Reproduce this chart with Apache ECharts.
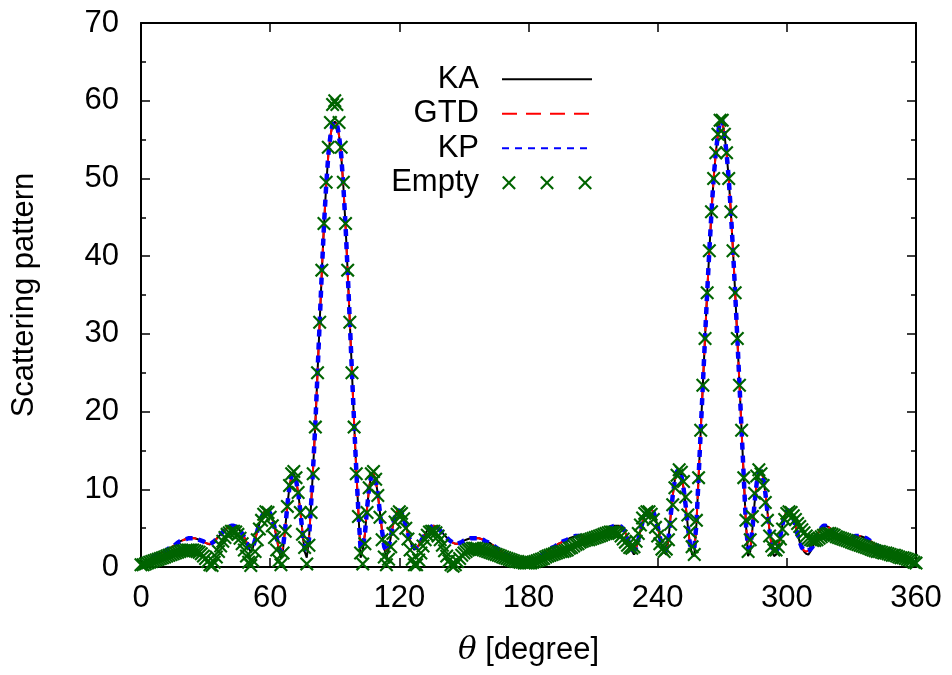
<!DOCTYPE html>
<html>
<head>
<meta charset="utf-8">
<script src="https://cdn.jsdelivr.net/npm/echarts@6/dist/echarts.min.js"></script>
<style>
html,body{margin:0;padding:0;background:#fff;}
#chart{width:952px;height:675px;}
</style>
</head>
<body>
<div id="chart"></div>
<script>
// Sampled every 1 degree, theta = 0 .. 360
const kaValues = [
0.3,0.4,0.6,0.8,1.0,1.2,1.4,1.5,1.7,1.8,
1.9,2.0,2.2,2.4,2.5,2.7,2.9,3.1,3.3,3.4,
3.5,3.6,3.7,3.7,3.7,3.7,3.6,3.5,3.4,3.3,
3.1,3.0,2.9,3.1,3.3,3.6,3.9,4.2,4.5,4.8,
5.0,5.2,5.3,5.3,5.2,5.0,4.7,4.3,3.8,3.2,
2.5,1.9,2.5,3.5,4.6,5.6,6.4,7.0,7.3,7.3,
6.9,6.2,5.1,3.8,2.2,1.2,2.3,5.0,8.0,10.4,
11.8,12.0,11.2,9.6,7.2,4.5,2.0,1.2,3.5,8.0,
13.0,18.5,25.0,31.5,38.0,44.0,49.0,53.0,55.5,57.0,
57.3,57.0,55.5,53.0,49.0,44.0,38.0,31.5,25.0,18.5,
12.5,7.0,1.2,2.2,4.2,7.5,10.3,11.8,12.0,11.2,
9.4,7.0,4.6,2.4,1.2,2.3,3.8,5.3,6.5,7.2,
7.3,7.0,6.3,5.3,4.3,3.4,2.6,2.2,2.5,2.8,
3.3,3.8,4.3,4.7,5.0,5.2,5.3,5.2,5.0,4.7,
4.4,4.1,3.8,3.5,3.3,3.1,3.0,3.0,3.1,3.2,
3.4,3.5,3.6,3.7,3.7,3.7,3.7,3.7,3.6,3.5,
3.3,3.2,3.1,2.9,2.7,2.5,2.3,2.1,1.9,1.7,
1.5,1.4,1.3,1.2,1.1,1.0,0.9,0.9,0.8,0.8,
0.8,0.8,0.9,1.0,1.1,1.3,1.5,1.7,1.9,2.1,
2.3,2.5,2.6,2.8,3.0,3.1,3.3,3.4,3.5,3.7,
3.8,3.9,4.0,4.0,4.0,3.9,3.8,3.7,3.6,3.5,
3.5,3.5,3.6,3.8,4.0,4.3,4.6,4.9,5.1,5.2,
5.3,5.3,5.3,5.2,4.9,4.4,3.7,2.9,2.1,1.6,
2.4,3.5,4.7,5.8,6.6,7.1,7.4,7.4,7.1,6.3,
5.2,3.9,2.7,1.9,1.6,3.6,6.5,9.2,11.2,12.3,
12.5,11.8,10.2,7.9,5.3,2.9,1.6,1.4,5.5,11.5,
17.5,23.5,29.5,35.3,40.7,45.7,50.0,53.3,55.7,57.5,
57.5,55.7,53.3,50.0,45.7,40.7,35.3,29.5,23.5,17.5,
11.5,5.5,1.4,2.0,4.8,8.2,10.8,12.2,12.4,11.5,
9.6,7.1,4.6,2.6,1.4,1.6,2.5,4.0,5.5,6.6,
7.2,7.3,7.0,6.3,5.3,4.2,3.2,2.5,2.0,1.7,
1.6,2.0,2.6,3.3,4.0,4.6,5.0,5.3,5.3,5.2,
5.0,4.7,4.3,3.9,3.6,3.5,3.5,3.5,3.6,3.7,
3.8,3.9,4.0,4.0,4.0,3.9,3.8,3.7,3.5,3.3,
3.1,2.9,2.7,2.6,2.4,2.3,2.2,2.1,2.0,1.9,
1.8,1.7,1.5,1.4,1.3,1.1,1.0,0.9,0.7,0.6,0.5
];
const gtdValues = [
0.3,0.4,0.6,0.8,1.0,1.2,1.4,1.5,1.7,1.8,
1.9,2.0,2.2,2.4,2.5,2.7,2.9,3.1,3.3,3.4,
3.5,3.6,3.7,3.7,3.7,3.7,3.6,3.5,3.4,3.3,
3.1,3.0,3.0,3.1,3.3,3.6,3.9,4.2,4.5,4.8,
5.0,5.2,5.3,5.3,5.2,5.0,4.7,4.3,3.8,3.2,
2.6,2.3,2.5,3.5,4.6,5.6,6.4,7.0,7.3,7.3,
6.9,6.2,5.1,3.8,2.4,2.0,2.6,5.0,8.0,10.4,
11.8,12.0,11.2,9.6,7.2,4.5,2.4,2.2,3.5,8.0,
13.0,18.5,25.0,31.5,38.0,44.0,49.0,53.0,55.5,57.0,
57.3,57.0,55.5,53.0,49.0,44.0,38.0,31.5,25.0,18.5,
12.5,7.0,2.3,2.6,4.2,7.5,10.3,11.8,12.0,11.2,
9.4,7.0,4.6,2.6,2.0,2.5,3.8,5.3,6.5,7.2,
7.3,7.0,6.3,5.3,4.3,3.4,2.8,2.5,2.5,2.8,
3.3,3.8,4.3,4.7,5.0,5.2,5.3,5.2,5.0,4.7,
4.4,4.1,3.8,3.5,3.3,3.1,3.0,3.0,3.1,3.2,
3.4,3.5,3.6,3.7,3.7,3.7,3.7,3.7,3.6,3.5,
3.3,3.2,3.1,2.9,2.7,2.5,2.3,2.1,1.9,1.7,
1.5,1.4,1.3,1.2,1.1,1.0,0.9,0.9,0.8,0.8,
0.8,0.8,0.9,1.0,1.1,1.3,1.5,1.7,1.9,2.1,
2.3,2.5,2.6,2.8,3.0,3.1,3.3,3.4,3.5,3.7,
3.8,3.9,4.0,4.0,4.0,3.9,3.8,3.7,3.6,3.5,
3.5,3.5,3.6,3.8,4.0,4.3,4.6,4.9,5.1,5.2,
5.3,5.3,5.3,5.2,4.9,4.4,3.7,2.9,2.3,2.1,
2.5,3.5,4.7,5.8,6.6,7.1,7.4,7.4,7.1,6.3,
5.2,3.9,2.7,2.2,2.2,3.6,6.5,9.2,11.2,12.3,
12.5,11.8,10.2,7.9,5.3,2.9,2.3,2.4,5.5,11.5,
17.5,23.5,29.5,35.3,40.7,45.7,50.0,53.3,55.7,57.5,
57.5,55.7,53.3,50.0,45.7,40.7,35.3,29.5,23.5,17.5,
11.5,5.5,2.4,2.4,4.8,8.2,10.8,12.2,12.4,11.5,
9.6,7.1,4.6,2.6,2.0,2.0,2.5,4.0,5.5,6.6,
7.2,7.3,7.0,6.3,5.3,4.2,3.2,2.5,2.1,2.0,
2.1,2.3,2.6,3.3,4.0,4.6,5.0,5.3,5.3,5.2,
5.0,4.7,4.3,3.9,3.6,3.5,3.5,3.5,3.6,3.7,
3.8,3.9,4.0,4.0,4.0,3.9,3.8,3.7,3.5,3.3,
3.1,2.9,2.7,2.6,2.4,2.3,2.2,2.1,2.0,1.9,
1.8,1.7,1.5,1.4,1.3,1.1,1.0,0.9,0.7,0.6,0.5
];
const kpValues = [
0.3,0.4,0.6,0.8,1.0,1.2,1.4,1.5,1.7,1.8,
1.9,2.0,2.2,2.4,2.5,2.7,2.9,3.1,3.3,3.4,
3.5,3.6,3.7,3.7,3.7,3.7,3.6,3.5,3.4,3.3,
3.1,3.0,3.0,3.1,3.3,3.6,3.9,4.2,4.5,4.8,
5.0,5.2,5.3,5.3,5.2,5.0,4.7,4.3,3.8,3.2,
2.6,2.3,2.5,3.5,4.6,5.6,6.4,7.0,7.3,7.3,
6.9,6.2,5.1,3.8,2.4,2.0,2.6,5.0,8.0,10.4,
11.8,12.0,11.2,9.6,7.2,4.5,2.4,2.2,3.5,8.0,
13.0,18.5,25.0,31.5,38.0,44.0,49.0,53.0,55.5,57.0,
57.3,57.0,55.5,53.0,49.0,44.0,38.0,31.5,25.0,18.5,
12.5,7.0,2.3,2.6,4.2,7.5,10.3,11.8,12.0,11.2,
9.4,7.0,4.6,2.6,2.0,2.5,3.8,5.3,6.5,7.2,
7.3,7.0,6.3,5.3,4.3,3.4,2.8,2.5,2.5,2.8,
3.3,3.8,4.3,4.7,5.0,5.2,5.3,5.2,5.0,4.7,
4.4,4.1,3.8,3.5,3.3,3.1,3.0,3.0,3.1,3.2,
3.4,3.5,3.6,3.7,3.7,3.7,3.7,3.7,3.6,3.5,
3.3,3.2,3.1,2.9,2.7,2.5,2.3,2.1,1.9,1.7,
1.5,1.4,1.3,1.2,1.1,1.0,0.9,0.9,0.8,0.8,
0.8,0.8,0.9,1.0,1.1,1.3,1.5,1.7,1.9,2.1,
2.3,2.5,2.6,2.8,3.0,3.1,3.3,3.4,3.5,3.7,
3.8,3.9,4.0,4.0,4.0,3.9,3.8,3.7,3.6,3.5,
3.5,3.5,3.6,3.8,4.0,4.3,4.6,4.9,5.1,5.2,
5.3,5.3,5.3,5.2,4.9,4.4,3.7,2.9,2.3,2.1,
2.5,3.5,4.7,5.8,6.6,7.1,7.4,7.4,7.1,6.3,
5.2,3.9,2.7,2.2,2.2,3.6,6.5,9.2,11.2,12.3,
12.5,11.8,10.2,7.9,5.3,2.9,2.3,2.4,5.5,11.5,
17.5,23.5,29.5,35.3,40.7,45.7,50.0,53.3,55.7,57.5,
57.5,55.7,53.3,50.0,45.7,40.7,35.3,29.5,23.5,17.5,
11.5,5.5,2.4,2.4,4.8,8.2,10.8,12.2,12.4,11.5,
9.6,7.1,4.6,2.6,2.0,2.0,2.5,4.0,5.5,6.6,
7.2,7.3,7.0,6.3,5.3,4.2,3.2,2.5,2.1,2.0,
2.1,2.3,2.6,3.3,4.0,4.6,5.0,5.3,5.3,5.2,
5.0,4.7,4.3,3.9,3.6,3.5,3.5,3.5,3.6,3.7,
3.8,3.9,4.0,4.0,4.0,3.9,3.8,3.7,3.5,3.3,
3.1,2.9,2.7,2.6,2.4,2.3,2.2,2.1,2.0,1.9,
1.8,1.7,1.5,1.4,1.3,1.1,1.0,0.9,0.7,0.6,0.5
];
const emptyValues = [
0.3,0.3,0.4,0.5,0.6,0.7,0.8,0.9,1.0,1.1,
1.2,1.3,1.4,1.5,1.6,1.7,1.8,1.9,2.0,2.1,
2.1,2.2,2.2,2.2,2.2,2.1,2.0,1.9,1.7,1.4,
1.1,0.7,0.3,0.2,0.6,1.3,2.0,2.7,3.3,3.8,
4.2,4.4,4.6,4.6,4.5,4.2,3.7,3.0,2.2,1.4,
0.6,0.2,0.8,2.0,3.5,4.9,6.0,6.8,7.1,7.0,
6.4,5.3,3.8,2.2,0.8,0.3,1.8,4.6,7.8,10.5,
12.0,12.3,11.5,9.6,7.0,4.2,2.5,0.4,2.8,7.0,
12.0,18.0,25.0,31.5,38.2,44.2,49.5,54.0,57.2,59.5,
60.0,59.5,57.2,54.0,49.5,44.2,38.2,31.5,25.0,18.0,
12.0,6.5,1.8,0.4,3.0,7.0,10.2,12.0,12.3,11.3,
9.2,6.4,3.5,1.3,0.3,1.0,2.6,4.3,5.8,6.8,
7.1,6.9,6.2,5.0,3.6,2.2,1.0,0.3,0.3,0.9,
1.8,2.7,3.5,4.1,4.5,4.6,4.6,4.4,4.0,3.5,
2.8,2.1,1.4,0.8,0.3,0.1,0.3,0.7,1.1,1.5,
1.8,2.0,2.2,2.3,2.4,2.4,2.4,2.3,2.3,2.2,
2.1,2.0,1.9,1.8,1.7,1.6,1.5,1.4,1.3,1.2,
1.1,1.0,0.9,0.8,0.7,0.7,0.6,0.6,0.5,0.5,
0.5,0.5,0.6,0.7,0.8,0.9,1.0,1.1,1.3,1.4,
1.5,1.6,1.7,1.8,1.9,2.0,2.0,2.1,2.2,2.4,
2.5,2.7,2.9,3.0,3.2,3.3,3.4,3.5,3.5,3.6,
3.7,3.8,3.9,4.0,4.1,4.2,4.3,4.4,4.5,4.5,
4.5,4.4,4.3,4.0,3.6,3.2,2.8,2.5,2.4,2.6,
3.3,4.3,5.4,6.3,6.9,7.1,7.1,6.8,6.1,5.1,
4.0,3.0,2.3,2.0,2.3,3.5,5.5,8.0,10.2,11.8,
12.5,12.2,11.0,9.0,6.7,4.5,2.6,1.6,6.0,11.5,
17.6,23.4,29.4,35.3,40.7,45.7,50.0,53.3,55.7,57.5,
57.5,55.7,53.3,50.0,45.7,40.7,35.3,29.4,23.4,17.6,
11.5,6.0,2.0,3.5,6.5,9.5,11.7,12.5,12.0,10.5,
8.3,6.0,4.0,2.7,2.2,2.2,2.6,3.6,4.9,6.1,
6.9,7.1,7.0,6.6,6.1,5.6,5.2,4.8,4.4,4.0,
3.7,3.5,3.4,3.4,3.5,3.7,3.9,4.1,4.2,4.3,
4.3,4.2,4.1,3.9,3.8,3.7,3.6,3.5,3.4,3.3,
3.2,3.1,3.0,2.9,2.8,2.7,2.6,2.5,2.4,2.3,
2.2,2.1,2.0,2.0,1.9,1.8,1.8,1.7,1.6,1.5,
1.5,1.4,1.3,1.2,1.2,1.1,1.0,0.9,0.8,0.6,0.5
];
const seriesNames = ['KA', 'GTD', 'KP', 'Empty'];
const xTicks = [0, 60, 120, 180, 240, 300, 360];
const yTicks = [0, 10, 20, 30, 40, 50, 60, 70];

const FONT = '"Liberation Sans", Arial, Helvetica, sans-serif';
const GREEN = '#006400';
// filled "x" marker shape (12x12 box)
const X_PTS = [[0,1.3],[1.3,0],[6,4.7],[10.7,0],[12,1.3],[7.3,6],[12,10.7],[10.7,12],[6,7.3],[1.3,12],[0,10.7],[4.7,6]];
function xAt(ox) {
  return 'M' + X_PTS.map(q => (q[0] + ox) + ' ' + q[1]).join('L') + 'Z';
}
const X_PATH = 'path://' + xAt(0);
const X3_PATH = 'path://' + xAt(0) + xAt(33) + xAt(66);

function toPairs(arr) { return arr.map((v, i) => [i, v]); }

const chart = echarts.init(document.getElementById('chart'), null, {renderer: 'canvas'});

const axisLineStyle = {color: '#000', width: 2};
const tickStyle = {color: '#000', width: 1.5};
const noSymbol = {opacity: 0};

const option = {
  animation: false,
  backgroundColor: '#fff',
  grid: {left: 141, right: 36, top: 23, bottom: 108, containLabel: false},
  xAxis: [{
    type: 'value', min: xTicks[0], max: xTicks[xTicks.length - 1], interval: 60,
    position: 'bottom',
    axisLine: {show: true, onZero: false, lineStyle: axisLineStyle},
    axisTick: {show: true, inside: true, length: 9, lineStyle: tickStyle},
    axisLabel: {show: true, fontSize: 31, color: '#000', fontFamily: FONT, margin: 16},
    splitLine: {show: false},
    name: '{i|θ} [degree]',
    nameLocation: 'middle',
    nameGap: 68,
    nameTextStyle: {fontSize: 31, color: '#000', fontFamily: FONT,
      rich: {i: {fontSize: 31, fontStyle: 'italic', color: '#000', fontFamily: '"DejaVu Serif", "Liberation Serif", serif'}}}
  }, {
    type: 'value', min: xTicks[0], max: xTicks[xTicks.length - 1], interval: 60,
    position: 'top',
    axisLine: {show: true, onZero: false, lineStyle: axisLineStyle},
    axisTick: {show: true, inside: true, length: 9, lineStyle: tickStyle},
    axisLabel: {show: false},
    splitLine: {show: false}
  }],
  yAxis: [{
    type: 'value', min: yTicks[0], max: yTicks[yTicks.length - 1], interval: 10,
    position: 'left',
    axisLine: {show: true, onZero: false, lineStyle: axisLineStyle},
    axisTick: {show: true, inside: true, length: 9, lineStyle: tickStyle},
    minorTick: {show: true, splitNumber: 2, length: 5, lineStyle: tickStyle},
    axisLabel: {show: true, fontSize: 31, color: '#000', fontFamily: FONT, margin: 22},
    splitLine: {show: false},
    name: 'Scattering pattern',
    nameLocation: 'middle',
    nameGap: 101,
    nameTextStyle: {fontSize: 31, color: '#000', fontFamily: FONT}
  }, {
    type: 'value', min: yTicks[0], max: yTicks[yTicks.length - 1], interval: 10,
    position: 'right',
    axisLine: {show: true, onZero: false, lineStyle: axisLineStyle},
    axisTick: {show: true, inside: true, length: 9, lineStyle: tickStyle},
    minorTick: {show: true, splitNumber: 2, length: 5, lineStyle: tickStyle},
    axisLabel: {show: false},
    splitLine: {show: false}
  }],
  legend: {
    orient: 'vertical',
    align: 'right',
    right: 359,
    top: 62,
    padding: 0,
    itemGap: 0,
    itemWidth: 90,
    itemHeight: 14,
    selectedMode: false,
    textStyle: {fontSize: 31, color: '#000', fontFamily: FONT, lineHeight: 34.5, padding: [0, 18, 0, 0]},
    data: [
      {name: seriesNames[0], itemStyle: noSymbol},
      {name: seriesNames[1], itemStyle: noSymbol},
      {name: seriesNames[2], itemStyle: noSymbol},
      {name: seriesNames[3], icon: X3_PATH, itemStyle: {color: GREEN, borderWidth: 0}}
    ]
  },
  series: [
    {
      name: seriesNames[0], type: 'line', xAxisIndex: 0, yAxisIndex: 0,
      data: toPairs(kaValues), symbol: 'none', showSymbol: false, z: 2,
      lineStyle: {color: '#000', width: 2}, itemStyle: {color: '#000'}
    },
    {
      name: seriesNames[1], type: 'line', xAxisIndex: 0, yAxisIndex: 0,
      data: toPairs(gtdValues), symbol: 'none', showSymbol: false, z: 3,
      lineStyle: {color: '#ff0000', width: 2, type: [15, 9]}, itemStyle: {color: '#ff0000'}
    },
    {
      name: seriesNames[2], type: 'line', xAxisIndex: 0, yAxisIndex: 0,
      data: toPairs(kpValues), symbol: 'none', showSymbol: false, z: 4,
      lineStyle: {color: '#0000ff', width: 4.5, type: [7, 6]}, itemStyle: {color: '#0000ff'}
    },
    {
      name: seriesNames[3], type: 'scatter', xAxisIndex: 0, yAxisIndex: 0,
      data: toPairs(emptyValues), symbol: X_PATH, symbolSize: 14, z: 5,
      itemStyle: {color: GREEN, opacity: 1}
    }
  ]
};
chart.setOption(option);
</script>
</body>
</html>
